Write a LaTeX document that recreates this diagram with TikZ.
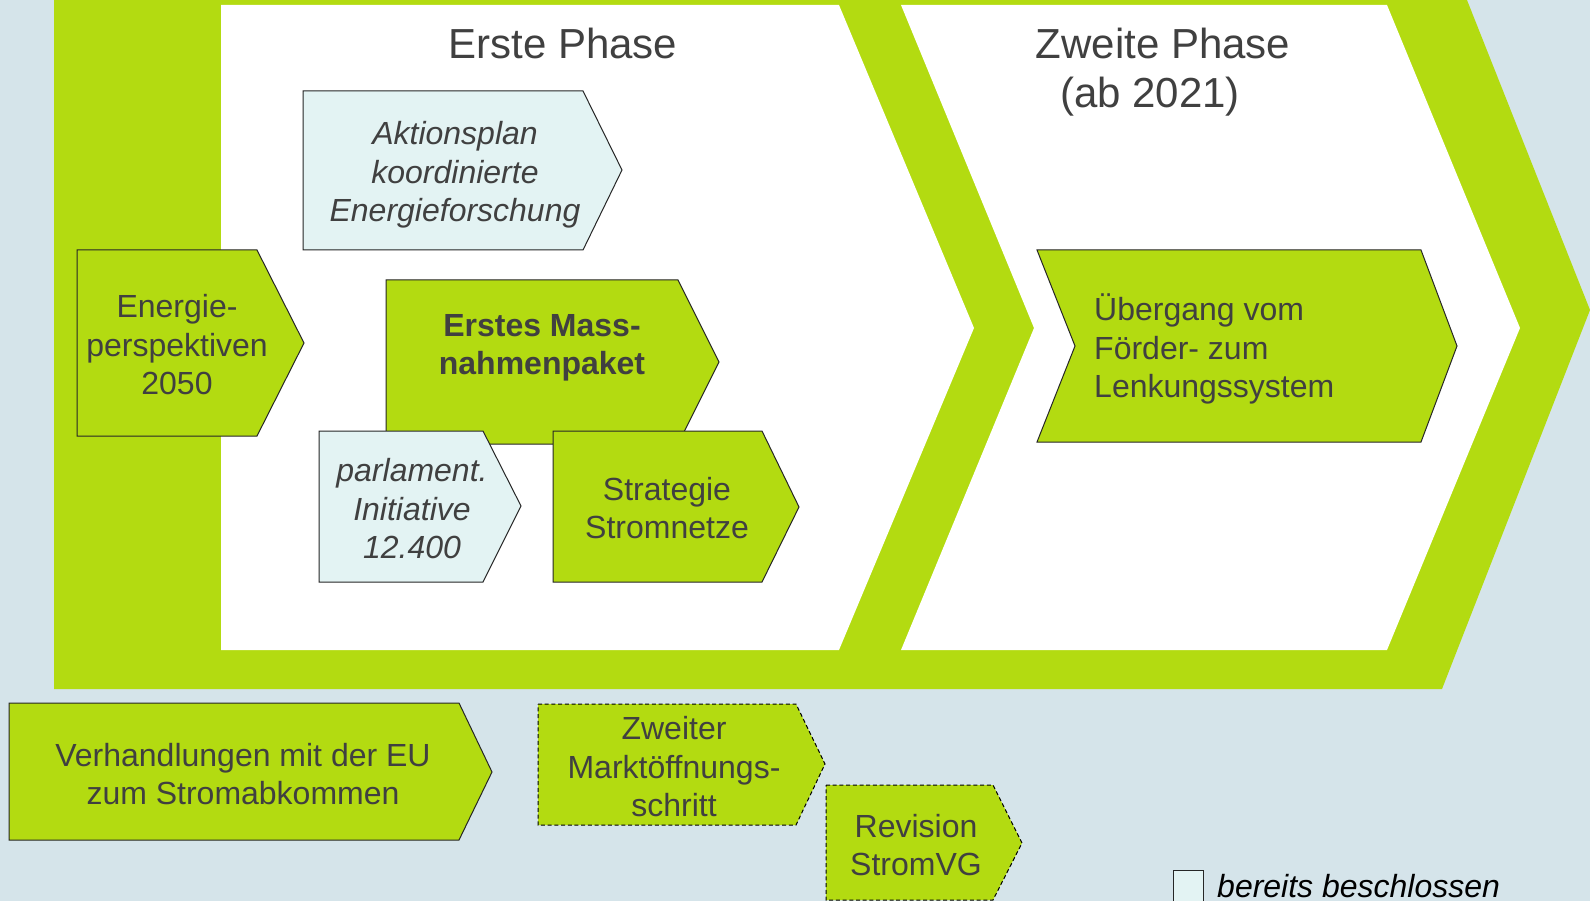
\documentclass[tikz,border=0pt]{standalone}
\usepackage{fontspec}
\setmainfont{Liberation Sans}
\definecolor{grn}{RGB}{179,219,17}
\definecolor{bgc}{RGB}{213,228,234}
\definecolor{lbox}{RGB}{227,243,243}
\definecolor{txt}{RGB}{64,64,64}
\begin{document}
\begin{tikzpicture}[x=1pt,y=-1pt,
  gbox/.style={fill=grn,draw=black!85,line width=1pt,line join=miter},
  lbx/.style={fill=lbox,draw=black!85,line width=1pt,line join=miter},
  dbox/.style={fill=grn,draw=black,line width=1pt,dash pattern=on 4pt off 2.7pt},
  lbl/.style={text=txt,align=center,font=\fontsize{32}{38.5}\selectfont,inner sep=0pt},
  ttl/.style={text=txt,font=\fontsize{42}{50}\selectfont,inner sep=0pt}]
\fill[bgc] (0,0) rectangle (1590,901);
\useasboundingbox (0,0) rectangle (1590,901);
% phase band
\fill[grn] (54,-10) -- (1463,-10) -- (1590,310) -- (1442,689) -- (54,689) -- cycle;
\fill[white] (221,5) -- (839,5) -- (974,328) -- (839,650) -- (221,650) -- cycle;
\fill[white] (901,5) -- (1387,5) -- (1520,328) -- (1387,650) -- (901,650) -- (1034,328) -- cycle;
% titles
\node[ttl] (t1) at (563,43) {Erste Phase};
\node[ttl] (t2) at (1163,43) {Zweite Phase};
\node[ttl] (t3) at (1150,97) {(ab 2021)};
% first phase boxes
\draw[lbx] (303,91) -- (583,91) -- (622,170) -- (583,250) -- (303,250) -- cycle;
\node[lbl,font=\fontsize{32}{38.5}\selectfont\itshape] (akt) at (455,175) {Aktionsplan\\koordinierte\\Energieforschung};
\draw[gbox] (77,250) -- (257,250) -- (304,343) -- (257,436) -- (77,436) -- cycle;
\node[lbl] (ep) at (177,345) {Energie-\\perspektiven\\2050};
\draw[gbox] (386,280) -- (678,280) -- (719,362) -- (678,444) -- (386,444) -- cycle;
\node[lbl,font=\fontsize{32}{38.5}\selectfont\bfseries] (emp) at (542,348) {Erstes Mass-\\nahmenpaket};
\draw[lbx] (319,431) -- (483,431) -- (521,506) -- (483,582) -- (319,582) -- cycle;
\node[lbl,font=\fontsize{32}{38.5}\selectfont\itshape] (pi) at (412,509) {parlament.\\Initiative\\12.400};
\draw[gbox] (553,431) -- (762,431) -- (799,507) -- (762,582) -- (553,582) -- cycle;
\node[lbl] (sn) at (667,508) {Strategie\\Stromnetze};
% second phase box
\draw[gbox] (1037,250) -- (1421,250) -- (1457,346) -- (1421,442) -- (1037,442) -- (1075,346) -- cycle;
\node[lbl,align=left,anchor=west] (ue) at (1094,349) {Übergang vom\\Förder- zum\\Lenkungssystem};
% bottom row
\draw[gbox] (9,703) -- (459,703) -- (492,772) -- (459,840) -- (9,840) -- cycle;
\node[lbl] (eu) at (243,774) {Verhandlungen mit der EU\\zum Stromabkommen};
\draw[dbox] (538,704) -- (796,704) -- (825,764) -- (796,825) -- (538,825) -- cycle;
\node[lbl] (mo) at (674,767) {Zweiter\\Marktöffnungs-\\schritt};
\draw[dbox] (826,785) -- (993,785) -- (1022,843) -- (993,900) -- (826,900) -- cycle;
\node[lbl] (rv) at (916,845) {Revision\\StromVG};
% legend
\node[lbx,minimum width=30pt,minimum height=31pt,inner sep=0pt,anchor=north west] (leg) at (1173,870) {};
\node[font=\fontsize{32}{38.5}\selectfont\itshape,text=black,inner sep=0pt,anchor=base west] (legt) at (1217,897) {bereits beschlossen};
\end{tikzpicture}
\end{document}
